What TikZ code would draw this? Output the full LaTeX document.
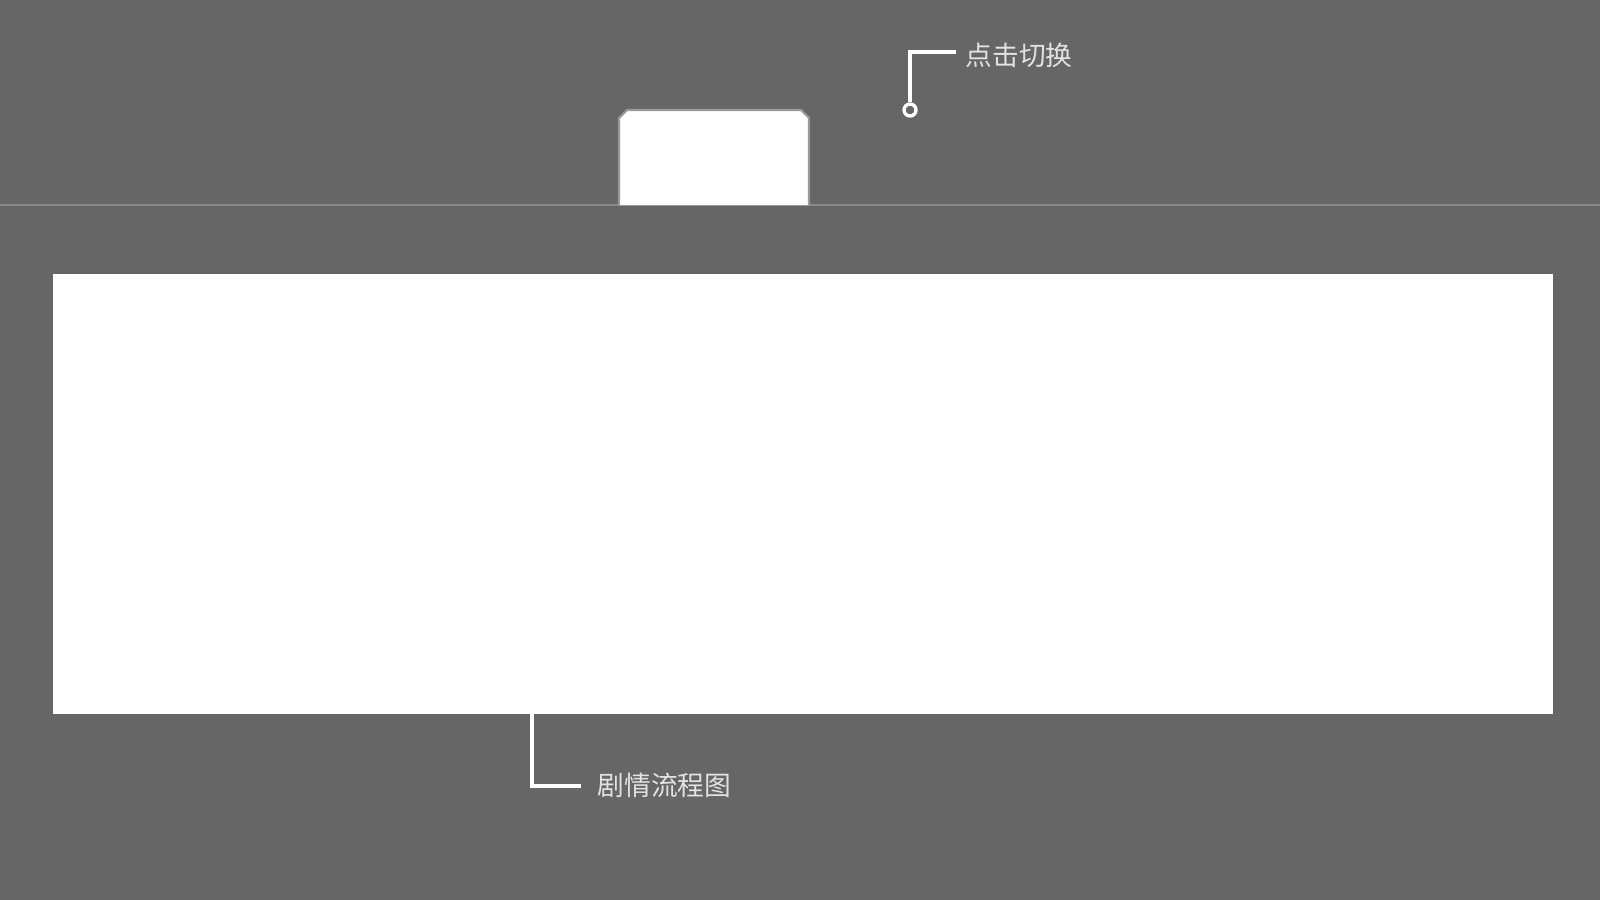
\documentclass[tikz,border=0pt]{standalone}
\usepackage{fontspec}
\setmainfont{Noto Sans CJK SC}
\usepackage{tikz}
\usetikzlibrary{positioning}

\definecolor{bggray}{HTML}{666666}
\definecolor{linegray}{HTML}{8A8A8A}
\definecolor{tabedge}{HTML}{9A9A9A}
\definecolor{labelgray}{HTML}{E2E2E2}

\tikzset{
	leader/.style={draw=white, line width=0.95pt},
	hook/.style={circle, draw=white, fill=bggray, line width=0.95pt, minimum size=0.12cm, inner sep=0pt},
	callout/.style={anchor=west, text=labelgray, font=\fontsize{7.6pt}{9pt}\selectfont, inner sep=0pt},
	panel/.style={rectangle, fill=white, anchor=north west, minimum width=14.99cm, minimum height=4.40cm, inner sep=0pt}
}

\begin{document}
\begin{tikzpicture}[x=0.01cm, y=-0.01cm]
		\fill[bggray] (0,0) rectangle (1600,900);
		\useasboundingbox (0,0) rectangle (1600,900);

		\draw[linegray, line width=0.4pt] (0,205) -- (1600,205);
		\filldraw[fill=white, draw=tabedge, line width=0.6pt] (619,205) -- (619,118) -- (627,110) -- (801,110) -- (809,118) -- (809,205);

		\node[panel] (board) at (52,273) {};

		\node[hook] (dot) at (910,110) {};
		\coordinate (bendtop) at (956,52);
		\node[callout] (switch) at (965,55) {点击切换};
		\draw[leader] (dot.north) |- (bendtop);

		\coordinate (tail) at (532,713);
		\coordinate (bendlow) at (581,786);
		\node[callout] (flow) at (597,785) {剧情流程图};
		\draw[leader] (tail) |- (bendlow);
	\end{tikzpicture}
\end{document}
